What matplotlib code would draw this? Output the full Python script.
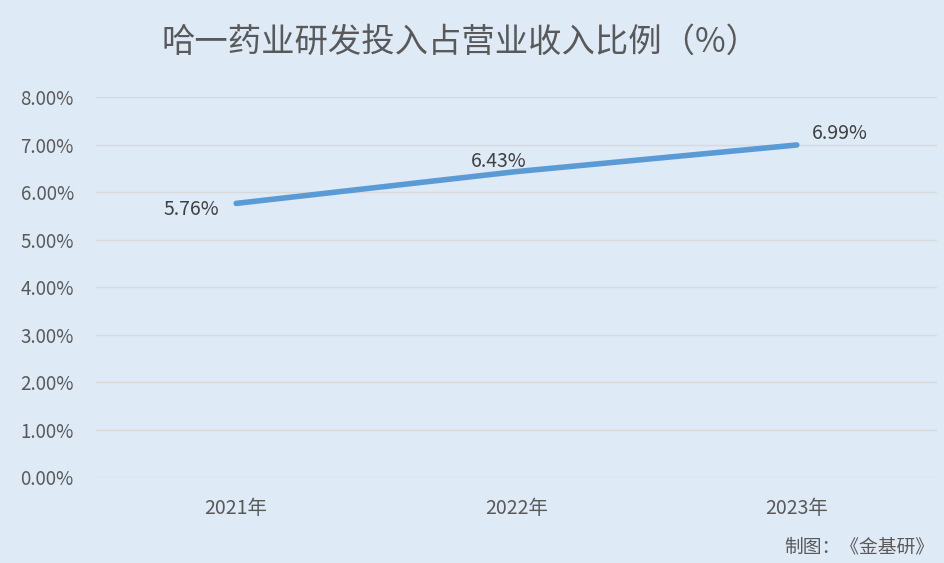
import matplotlib
matplotlib.use("Agg")
import matplotlib.pyplot as plt
from matplotlib.ticker import FuncFormatter

plt.rcParams['font.family'] = ['Noto Sans CJK SC', 'DejaVu Sans']

years = ['2021年', '2022年', '2023年']
ratio = [5.76, 6.43, 6.99]
yticks = [0, 1, 2, 3, 4, 5, 6, 7, 8]

bg = '#DEEAF6'
fig = plt.figure(figsize=(9.45, 5.63), dpi=100, facecolor=bg)
ax = fig.add_axes([0.1016, 0.1527, 0.8899, 0.675], facecolor=bg)

x = list(range(len(years)))
ax.plot(x, ratio, color='#5B9BD5', lw=4, solid_capstyle='round')

ax.set_xlim(-0.5, 2.5)
ax.set_ylim(0, 8)
ax.set_yticks(yticks)
ax.yaxis.set_major_formatter(FuncFormatter(lambda v, p: f'{v:.2f}%'))
ax.set_xticks(x)
ax.set_xticklabels(years)
ax.grid(axis='y', color='#D9D9D9', lw=1)
ax.set_axisbelow(True)
for s in ax.spines.values():
    s.set_visible(False)
ax.tick_params(axis='both', length=0, colors='#595959')
ax.tick_params(axis='y', pad=16, labelsize=13.5)
ax.tick_params(axis='x', pad=15, labelsize=14)

lab = dict(fontsize=14, color='#404040')
ax.annotate(f'{ratio[0]:.2f}%', (x[0], ratio[0]), xytext=(-12, -4.5),
            textcoords='offset points', ha='right', va='center', **lab)
ax.annotate(f'{ratio[1]:.2f}%', (x[1], ratio[1]), xytext=(-13, 0),
            textcoords='offset points', ha='center', va='bottom', **lab)
ax.annotate(f'{ratio[2]:.2f}%', (x[2], ratio[2]), xytext=(11, 8),
            textcoords='offset points', ha='left', va='center', **lab)

fig.text(0.487, 0.925, '哈一药业研发投入占营业收入比例（%）', ha='center', va='center',
         fontsize=24, color='#595959')
fig.text(0.989, 0.028, '制图：《金基研》', ha='right', va='center',
         fontsize=13.5, color='#595959')

fig.savefig('out.png', dpi=100, facecolor=bg)
